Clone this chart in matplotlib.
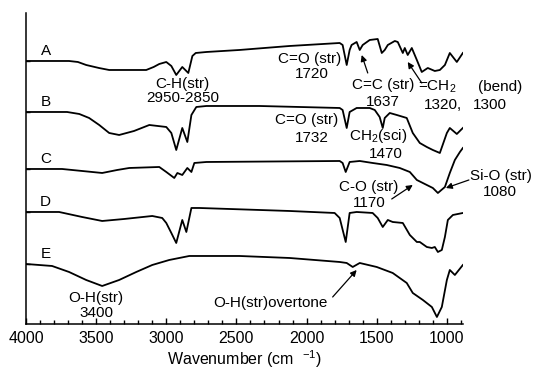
import matplotlib
matplotlib.use('Agg')
import matplotlib.pyplot as plt
from matplotlib.ticker import MultipleLocator

plt.rcParams['font.family'] = ['Liberation Sans', 'DejaVu Sans']
plt.rcParams['mathtext.fontset'] = 'custom'
plt.rcParams['mathtext.rm'] = 'Liberation Sans'
plt.rcParams['mathtext.it'] = 'Liberation Sans:italic'

# spectra (wavenumber, transmittance a.u., stacked)
wn_A = [4000, 3693, 3630, 3571, 3480, 3407, 3143, 3090, 3050, 3000, 2964, 2929, 2886, 2843, 2814,
        2790, 2714, 2479, 2121, 1764, 1743, 1714, 1693, 1679, 1643, 1621, 1600, 1550, 1493, 1464,
        1443, 1421, 1371, 1350, 1314, 1300, 1279, 1250, 1214, 1179, 1136, 1086, 1050, 1014, 979,
        929, 886]
t_A = [263, 263, 262, 259, 256, 254, 254, 257, 260, 262, 258, 249, 257, 251, 268,
       271, 272, 274, 278, 281, 279, 259, 274, 279, 282, 274, 279, 284, 285, 271,
       274, 279, 283, 282, 271, 276, 269, 276, 264, 252, 256, 253, 254, 259, 271,
       262, 271]

wn_B = [4000, 3707, 3620, 3550, 3478, 3407, 3336, 3230, 3121, 3000, 2964, 2929, 2886, 2850,
        2821, 2786, 2714, 2336, 1764, 1743, 1714, 1693, 1643, 1550, 1514, 1479, 1457, 1443,
        1407, 1357, 1286, 1243, 1193, 1143, 1100, 1050, 1000, 979, 929, 886]
t_B = [212, 212, 210, 206, 199, 191, 189, 193, 199, 197, 191, 174, 196, 182,
       209, 217, 218, 218, 216, 214, 196, 212, 216, 216, 214, 207, 196, 206,
       211, 209, 206, 191, 181, 177, 174, 171, 191, 196, 190, 196]

wn_C = [4000, 3743, 3600, 3457, 3350, 3264, 3050, 3000, 2943, 2921, 2886, 2850, 2821, 2800,
        2714, 1764, 1743, 1721, 1693, 1621, 1529, 1429, 1336, 1264, 1214, 1143, 1100, 1064,
        1014, 979, 943, 907, 886]
t_C = [155, 155, 153, 151, 154, 156, 157, 152, 146, 151, 149, 156, 152, 161,
       162, 163, 161, 152, 162, 163, 161, 159, 156, 152, 144, 139, 136, 131,
       137, 151, 164, 172, 176]

wn_D = [4000, 3764, 3600, 3457, 3300, 3100, 3029, 3000, 2964, 2929, 2886, 2857, 2821, 2764,
        2121, 1800, 1764, 1721, 1693, 1643, 1529, 1493, 1457, 1421, 1386, 1314, 1264, 1214,
        1193, 1143, 1107, 1086, 1064, 1036, 1014, 993, 957, 886]
t_D = [112, 112, 107, 103, 105, 108, 106, 101, 91, 81, 104, 92, 116, 116,
       113, 111, 106, 82, 111, 112, 111, 106, 97, 104, 102, 101, 89, 82,
       82, 77, 76, 77, 72, 74, 87, 104, 109, 111]

wn_E = [4000, 3814, 3693, 3571, 3457, 3336, 3214, 3100, 2979, 2836, 2479, 2121, 1764, 1714,
        1671, 1621, 1500, 1386, 1286, 1243, 1171, 1107, 1071, 1036, 1000, 979, 943, 886]
t_E = [60, 58, 52, 44, 38, 44, 52, 59, 64, 68, 68, 66, 62, 61,
       57, 61, 57, 51, 41, 31, 24, 17, 7, 17, 44, 54, 49, 59]

names = ['A', 'B', 'C', 'D', 'E']
baselines = [263, 212, 155, 112, 60]
xticks_major = [4000, 3500, 3000, 2500, 2000, 1500, 1000]

fig = plt.figure(figsize=(5.36, 3.69), dpi=100)
ax = fig.add_axes([0.0485, 0.122, 0.8153, 0.8428])

for wn, t in [(wn_A, t_A), (wn_B, t_B), (wn_C, t_C), (wn_D, t_D), (wn_E, t_E)]:
    ax.plot(wn, t, color='black', lw=1.3, solid_joinstyle='round')

ax.set_xlim(4000, 885)
ax.set_ylim(0, 311)
ax.spines['top'].set_visible(False)
ax.spines['right'].set_visible(False)
ax.spines['left'].set_linewidth(1.1)
ax.spines['bottom'].set_linewidth(1.1)

ax.set_xticks(xticks_major)
ax.xaxis.set_minor_locator(MultipleLocator(100))
ax.tick_params(axis='x', which='major', direction='in', length=4, width=1, labelsize=11.5, pad=5)
ax.tick_params(axis='x', which='minor', direction='in', length=2.8, width=1)
ax.set_yticks(baselines)
ax.set_yticklabels([])
ax.tick_params(axis='y', direction='in', length=3, width=1)
ax.set_xlabel('Wavenumber (cm  $^{-1}$)', fontsize=11.5, labelpad=2)

fs = 11
for n, yb in zip(names, baselines):
    ax.text(3860, yb + 10, n, fontsize=fs, ha='center', va='center')

def lab(x, y, s):
    ax.text(x, y, s, fontsize=fs, ha='center', va='center')

lab(2886, 240, 'C-H(str)')
lab(2886, 226, '2950-2850')
lab(1979, 265, 'C=O (str)')
lab(1964, 250, '1720')
lab(1457, 239, 'C=C (str)')
lab(1457, 222, '1637')
lab(1071, 237, '=CH$_2$')
lab(621, 237, '(bend)')
lab(1029, 219, '1320,')
lab(693, 219, '1300')
lab(2000, 204, 'C=O (str)')
lab(1964, 186, '1732')
lab(1493, 188, 'CH$_2$(sci)')
lab(1436, 170, '1470')
lab(1557, 137, 'C-O (str)')
lab(1550, 121, '1170')
lab(614, 148, 'Si-O (str)')
lab(621, 132, '1080')
lab(3500, 26, 'O-H(str)')
lab(3500, 11, '3400')
lab(2257, 21, 'O-H(str)overtone')

arrow = dict(arrowstyle='-|>', color='black', lw=0.9, mutation_scale=9, shrinkA=0, shrinkB=0)
for tail, head in [((1564, 251), (1607, 269)),
                   ((1179, 241), (1279, 262)),
                   ((1393, 125), (1243, 139)),
                   ((843, 144), (1007, 136)),
                   ((1814, 27), (1643, 54))]:
    ax.annotate('', xy=head, xytext=tail, arrowprops=arrow, annotation_clip=False)

fig.savefig('out.png', dpi=100)
